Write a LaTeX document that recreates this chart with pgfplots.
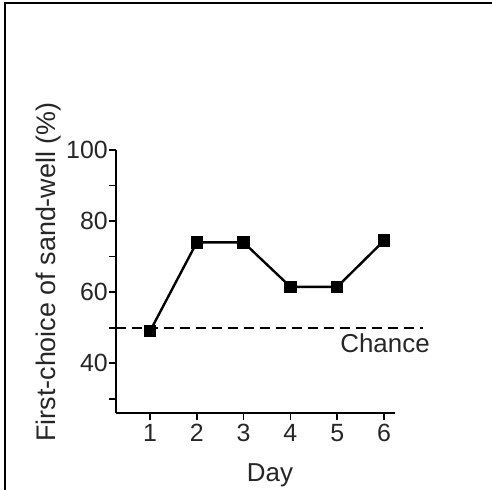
\documentclass[border=0pt]{standalone}
\usepackage{fontspec}
\setmainfont{Liberation Sans}
\usepackage{pgfplots}
\pgfplotsset{compat=1.18}
\definecolor{txt}{gray}{0.15}
\begin{document}
\begin{tikzpicture}
\useasboundingbox (0,0) rectangle (492bp,-490bp);
\draw[line width=2bp] (5bp,-490bp) -- (5bp,-3bp) -- (492bp,-3bp);
\begin{axis}[
  at={(116bp,-413bp)}, anchor=south west,
  scale only axis, width=279bp, height=263bp,
  xmin=0.274, xmax=6.235, ymin=26, ymax=100,
  axis x line=bottom, axis y line=left,
  axis line style={-, line width=2bp, black},
  xtick={1,2,3,4,5,6},
  ytick={40,60,80,100},
  minor ytick={30,50,70,90},
  tick align=outside,
  major tick length=7bp, minor tick length=7bp,
  tick style={line width=1.6bp, black},
  /pgf/number format/assume math mode=true,
  tick label style={font=\fontsize{25}{28}\selectfont, text=txt},
  yticklabel style={inner sep=1bp},
  xticklabel style={inner sep=1bp, yshift=-3bp},
  xlabel={Day},
  ylabel={First-choice of sand-well (\%)},
  xlabel style={at={(axis description cs:0.552,-0.26)}, anchor=base, font=\fontsize{26}{30}\selectfont, text=txt},
  ylabel style={at={(axis description cs:-0.2186,0.536)}, anchor=base, rotate=0, font=\fontsize{27}{30}\selectfont, text=txt},
  clip=false,
]
\addplot[black, line width=1.8bp, dash pattern=on 10bp off 6bp] coordinates {(0.274,50) (6.83,50)};
\addplot[black, line width=2.4bp, mark=square*, mark size=5bp, mark options={solid}] coordinates {
(1,49) (2,74) (3,74) (4,61.5) (5,61.5) (6,74.5)};
\node[anchor=east, text=txt, font=\fontsize{26}{30}\selectfont, inner sep=0pt] at (axis cs:6.98,45.5) {Chance};
\end{axis}
\end{tikzpicture}
\end{document}
